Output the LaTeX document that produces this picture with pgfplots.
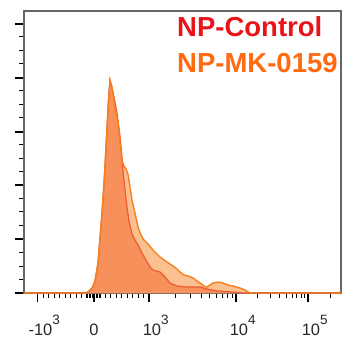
\documentclass[border=0pt]{standalone}
\usepackage{fontspec}
\setmainfont{Liberation Sans}
\usepackage{pgfplots}
\pgfplotsset{compat=1.18}
\definecolor{ofill}{HTML}{FBC08F}
\definecolor{rfill}{HTML}{F8905C}
\definecolor{oline}{HTML}{F58020}
\definecolor{rline}{HTML}{EE5A30}
\definecolor{ctrl}{HTML}{E8141C}
\definecolor{mk}{HTML}{FF6A10}
\newcommand{\dec}[2]{\kern13.5bp #110\raisebox{11bp}{\fontsize{13.5bp}{13.5bp}\selectfont #2}}
\begin{document}
\begin{tikzpicture}
\useasboundingbox (-24bp,-44bp) rectangle (318bp,293bp);
\begin{axis}[
  at={(0,0)}, anchor=south west,
  scale only axis, width=317bp, height=282bp,
  xmin=24, xmax=341, ymin=0, ymax=282,
  axis line style={draw=black!60, line width=1.2bp},
  xtick pos=bottom, ytick pos=left, tick align=outside,
  major tick length=9bp, minor tick length=4.5bp,
  every tick/.style={black, line width=1.3bp},
  minor tick style={black, line width=1bp},
  xtick={37.5,94,149,236,308},
  xticklabels={\dec{-}{3}, 0, \dec{}{3}, \dec{}{4}, \dec{}{5}},
  minor xtick={43,48.5,54,59.5,65,70.5,76,81.5,86,87.5,89,90.5,92,96,97.5,99,100.5,105,110.5,116,121.5,127,132.5,138,143.5,175,190.5,201.4,209.8,216.7,222.5,227.6,232,257.7,270.3,279.4,286.3,292,296.8,301,304.7,330},
  xticklabel style={font=\fontsize{16.5bp}{16.5bp}\selectfont, text=black!85, anchor=base, yshift=-33bp},
  ytick={0,54,108,161,215,269},
  minor ytick={13.5,27,40.5,67.5,81,94.5,121,134,148,175,188,202,229,242,256},
  yticklabels={},
]
% NP-MK-0159 (orange) fill
\addplot[fill=ofill, draw=none] coordinates {
(24,0)(85,0)(88,1)(90,3)(93,6)(95,12)(98,30)(100,55)(102,80)(104,110)(105,128)(107,165)(108,185)(109,200)(110,213)(111,210)(112,206)(113,200)(115,184)(117,176)(118,172)(120,150)(122,133)(124,127)(126,124)(128,119)(130,106)(132,93)(135,80)(138,66)(141,58)(144,53)(148,49)(153,43)(157,39)(160,36)(164,33)(167,31)(170,29)(173,27)(177,24)(180,21)(184,18)(188,17)(193,15)(197,12)(200,10)(204,7)(207,6)(210,8)(213,10)(218,11)(223,10)(228,8)(233,7)(240,5)(245,3)(248,1)(252,0)(338,0)(340,1)(341,1)(341,0)
} \closedcycle;
% NP-Control (red) fill
\addplot[fill=rfill, draw=none] coordinates {
(24,0)(86,0)(89,2)(92,5)(95,12)(98,30)(100,55)(102,80)(104,110)(106,145)(108,185)(109,200)(110,213)(111,208)(113,201)(115,191)(117,180)(118,172)(120,157)(122,136)(123,122)(125,103)(127,86)(129,72)(132,59)(135,53)(138,48)(142,40)(147,31)(150,26)(153,23)(160,21)(165,16)(170,10)(177,7)(187,6)(200,6)(207,4)(217,2)(233,1)(243,0)(341,0)
} \closedcycle;
% red line
\addplot[draw=rline, line width=1.2bp] coordinates {
(24,0)(86,0)(89,2)(92,5)(95,12)(98,30)(100,55)(102,80)(104,110)(106,145)(108,185)(109,200)(110,213)(111,208)(113,201)(115,191)(117,180)(118,172)(120,157)(122,136)(123,122)(125,103)(127,86)(129,72)(132,59)(135,53)(138,48)(142,40)(147,31)(150,26)(153,23)(160,21)(165,16)(170,10)(177,7)(187,6)(200,6)(207,4)(217,2)(233,1)(243,0)(341,0)
};
% orange line
\addplot[draw=oline, line width=1.4bp] coordinates {
(24,0)(85,0)(88,1)(90,3)(93,6)(95,12)(98,30)(100,55)(102,80)(104,110)(105,128)(107,165)(108,185)(109,200)(110,213)(111,210)(112,206)(113,200)(115,184)(117,176)(118,172)(120,150)(122,133)(124,127)(126,124)(128,119)(130,106)(132,93)(135,80)(138,66)(141,58)(144,53)(148,49)(153,43)(157,39)(160,36)(164,33)(167,31)(170,29)(173,27)(177,24)(180,21)(184,18)(188,17)(193,15)(197,12)(200,10)(204,7)(207,6)(210,8)(213,10)(218,11)(223,10)(228,8)(233,7)(240,5)(245,3)(248,1)(252,0)(338,0)(340,1)(341,1)
};
\node[anchor=base west, inner sep=0pt, text=ctrl, font=\bfseries\fontsize{27.5bp}{27.5bp}\selectfont] at (axis cs:177,256) {NP-Control};
\node[anchor=base west, inner sep=0pt, text=mk, font=\bfseries\fontsize{27.5bp}{27.5bp}\selectfont] at (axis cs:177,220) {NP-MK-0159};
\end{axis}
\end{tikzpicture}
\end{document}
